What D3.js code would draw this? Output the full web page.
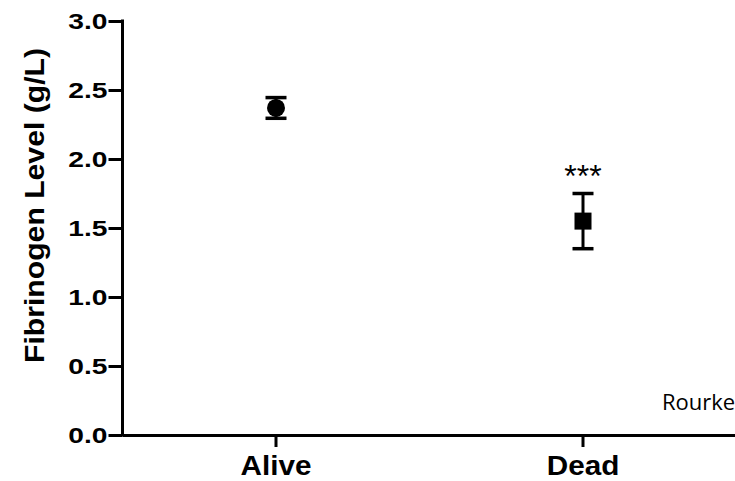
<!DOCTYPE html>
<html>
<head>
<meta charset="utf-8">
<script src="https://cdn.jsdelivr.net/npm/d3@7"></script>
<style>
  html, body { margin: 0; padding: 0; background: #fff; }
  svg { display: block; }
</style>
</head>
<body>
<svg id="chart" width="735" height="481"></svg>
<script>
// Fibrinogen level by outcome: group means with error bars
const categories = ["Alive", "Dead"];
const means = [2.37, 1.55];
const errors = [0.075, 0.20];
const markerShapes = ["circle", "square"];
const significance = ["", "***"];
const yTicks = [0, 0.5, 1.0, 1.5, 2.0, 2.5, 3.0];
const yTitle = "Fibrinogen Level (g/L)";
const sourceNote = "Rourke";

const W = 735, H = 481;
const svg = d3.select("#chart");
svg.append("rect").attr("width", W).attr("height", H).attr("fill", "#fff");

const x = d3.scaleBand().domain(categories).range([122.5, 736.5]).padding(0);
const y = d3.scaleLinear().domain([0, 3]).range([435, 21]);
const boldFont = "'Liberation Sans', Arial, Helvetica, sans-serif";

// widen glyphs along the baseline by a factor
function stretch(sel, k) {
  sel.each(function () {
    const len = this.getComputedTextLength();
    d3.select(this).attr("textLength", len * k).attr("lengthAdjust", "spacingAndGlyphs");
  });
}

// y axis
const yAxis = svg.append("g")
  .attr("transform", `translate(${x.range()[0]},0)`)
  .call(d3.axisLeft(y).tickValues(yTicks).tickFormat(d3.format(".1f"))
    .tickSize(14).tickSizeOuter(0).tickPadding(1));
yAxis.selectAll("path, line").attr("stroke", "#000").attr("stroke-width", 3);
yAxis.selectAll("text")
  .attr("font-family", boldFont).attr("font-weight", "bold")
  .attr("font-size", 22).attr("fill", "#000")
  .attr("dy", "0.34em")
  .call(stretch, 1.28);
yAxis.select(".domain").attr("d", `M0,${y(0) + 1.5}V${y(3) - 1.5}`);

// x axis
const xAxis = svg.append("g")
  .attr("transform", `translate(0,${y(0)})`)
  .call(d3.axisBottom(x).tickSize(12).tickSizeOuter(0).tickPadding(8));
xAxis.selectAll("path, line").attr("stroke", "#000").attr("stroke-width", 3);
xAxis.selectAll("text")
  .attr("font-family", boldFont).attr("font-weight", "bold")
  .attr("font-size", 28).attr("fill", "#000")
  .call(stretch, 1.06);

// y axis title
const title = svg.append("text")
  .attr("transform", `translate(44,${(48 + 363) / 2}) rotate(-90)`)
  .attr("text-anchor", "middle")
  .attr("font-family", boldFont).attr("font-weight", "bold")
  .attr("font-size", 28).attr("fill", "#000")
  .text(yTitle);
title.attr("textLength", 315).attr("lengthAdjust", "spacingAndGlyphs");

// error bars and markers
const groups = svg.append("g").selectAll("g")
  .data(categories.map((c, i) => ({ c, m: means[i], e: errors[i], shape: markerShapes[i], sig: significance[i] })))
  .join("g")
  .attr("transform", d => `translate(${x(d.c) + x.bandwidth() / 2},0)`);

const capHalf = 10.5;
groups.append("line")
  .attr("x1", 0).attr("x2", 0)
  .attr("y1", d => y(d.m + d.e)).attr("y2", d => y(d.m - d.e))
  .attr("stroke", "#000").attr("stroke-width", 3);
groups.selectAll("line.cap")
  .data(d => [d.m + d.e, d.m - d.e])
  .join("line").attr("class", "cap")
  .attr("x1", -capHalf).attr("x2", capHalf)
  .attr("y1", v => y(v)).attr("y2", v => y(v))
  .attr("stroke", "#000").attr("stroke-width", 3.5);

groups.filter(d => d.shape === "circle").append("circle")
  .attr("cx", 0).attr("cy", d => y(d.m)).attr("r", 9).attr("fill", "#000");
groups.filter(d => d.shape === "square").append("rect")
  .attr("x", -8.5).attr("y", d => y(d.m) - 8.5)
  .attr("width", 17).attr("height", 17).attr("fill", "#000");

// significance stars
groups.filter(d => d.sig).append("text")
  .attr("x", 0).attr("y", d => y(d.m + d.e) - 7)
  .attr("text-anchor", "middle")
  .attr("font-family", "'Liberation Sans', Arial, sans-serif")
  .attr("font-size", 32).attr("fill", "#000")
  .text(d => d.sig);

// source note at lower right
svg.append("text")
  .attr("x", 662).attr("y", 410)
  .attr("font-family", "'Open Sans', 'Noto Sans', sans-serif")
  .attr("font-size", 22).attr("fill", "#000")
  .text(sourceNote);
</script>
</body>
</html>
